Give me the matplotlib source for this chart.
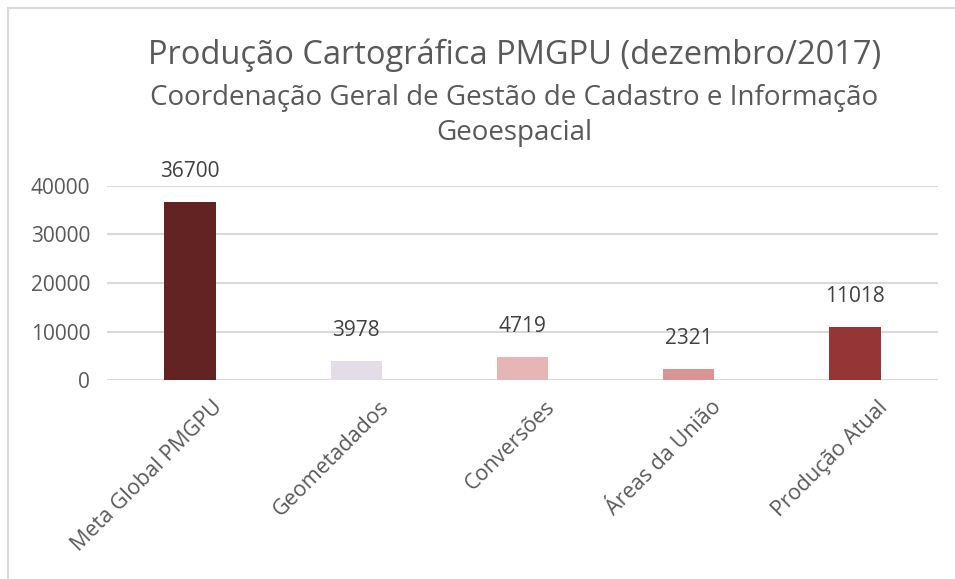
import matplotlib.pyplot as plt
import matplotlib.patches as mpatches
from matplotlib.transforms import ScaledTranslation

# ── Data ───────────────────────────────────────────────────────────────────────
categories = ['Meta Global PMGPU', 'Geometadados', 'Conversões', 'Áreas da União', 'Produção Atual']
values = [36700, 3978, 4719, 2321, 11018]
bar_colors = ['#632323', '#E3DDE8', '#E6B5B5', '#D99494', '#953535']
y_ticks = [0, 10000, 20000, 30000, 40000]

plt.rcParams['font.family'] = ['Open Sans', 'DejaVu Sans']

W, H = 955, 579
fig = plt.figure(figsize=(W / 100, H / 100), dpi=100)
fig.patch.set_facecolor('white')

# light frame of the chart object
fig.patches.append(mpatches.Rectangle((8 / W, -0.1), 1.2, 1 - 8 / H + 0.1,
                                      transform=fig.transFigure, fill=False,
                                      edgecolor='#D9D9D9', linewidth=1.5))

ax = fig.add_axes([107 / W, 1 - 380 / H, (938 - 107) / W, (380 - 186) / H])
x = list(range(len(categories)))
bars = ax.bar(x, values, width=0.31, color=bar_colors, zorder=3)

ax.set_xlim(-0.5, len(categories) - 0.5)
ax.set_ylim(0, 40000)
ax.set_yticks(y_ticks)
ax.set_yticklabels([str(v) for v in y_ticks], fontsize=15, color='#595959')
ax.yaxis.grid(True, color='#D9D9D9', linewidth=1.5, zorder=0)
ax.set_axisbelow(True)
for s in ax.spines.values():
    s.set_visible(False)
ax.tick_params(axis='both', length=0)
ax.tick_params(axis='y', pad=12)
ax.tick_params(axis='x', pad=12)

ax.set_xticks(x)
ax.set_xticklabels(categories, rotation=45, ha='right', rotation_mode='anchor',
                   fontsize=15.5, color='#595959')
offset = ScaledTranslation(22 / 100, 0, fig.dpi_scale_trans)
for lbl in ax.get_xticklabels():
    lbl.set_transform(lbl.get_transform() + offset)

# data labels
for xi, v in zip(x, values):
    ax.annotate(str(v), (xi, v), xytext=(0, 22), textcoords='offset points',
                ha='center', va='center', fontsize=15, color='#404040')

# titles
fig.text(515 / W, 1 - 55 / H, 'Produção Cartográfica PMGPU (dezembro/2017)',
         ha='center', va='center', fontsize=23.5, color='#595959')
fig.text(514 / W, 1 - 98 / H, 'Coordenação Geral de Gestão de Cadastro e Informação',
         ha='center', va='center', fontsize=20, color='#595959')
fig.text(514 / W, 1 - 133 / H, 'Geoespacial',
         ha='center', va='center', fontsize=20, color='#595959')

fig.savefig('out.png', dpi=100)
